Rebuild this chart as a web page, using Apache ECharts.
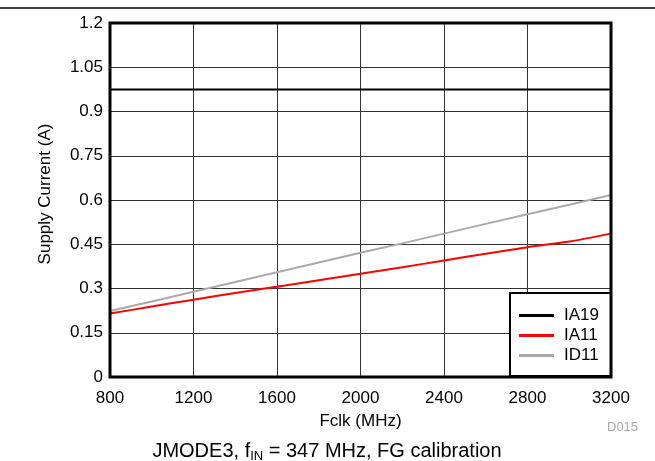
<!DOCTYPE html>
<html lang="en">
<head>
    <meta charset="UTF-8">
    <title>Supply Current vs Fclk</title>
    <script src="https://cdn.jsdelivr.net/npm/echarts@6.0.0/dist/echarts.min.js"></script>
    <style>
        html, body {
            margin: 0;
            padding: 0;
            background: #fff;
        }
        #chart {
            width: 655px;
            height: 461px;
        }
    </style>
</head>
<body>
    <div id="chart"></div>

    <script>
        // Fclk (MHz)
        const fclk = [800, 1000, 1200, 1400, 1600, 1800, 2000, 2200, 2400, 2600, 2800, 3000, 3200];

        // Supply current (A)
        const ia19 = [0.975, 0.975, 0.975, 0.975, 0.975, 0.975, 0.975, 0.975, 0.975, 0.975, 0.975, 0.975, 0.975];
        const ia11 = [0.215, 0.239, 0.262, 0.285, 0.306, 0.328, 0.350, 0.372, 0.395, 0.418, 0.440, 0.459, 0.486];
        const id11 = [0.224, 0.256, 0.289, 0.322, 0.355, 0.388, 0.421, 0.453, 0.486, 0.519, 0.552, 0.584, 0.617];

        const font = 'Liberation Sans, Arial, sans-serif';

        function pairs(vals) {
            return fclk.map((x, i) => [x, vals[i]]);
        }

        const chart = echarts.init(document.getElementById('chart'));

        chart.setOption({
            animation: false,
            textStyle: { fontFamily: font },
            title: {
                text: '{a|JMODE3, f}{s|IN}{a| = 347 MHz, FG calibration}',
                left: 322,
                textAlign: 'center',
                top: 435,
                textStyle: {
                    fontWeight: 'normal',
                    rich: {
                        a: { fontSize: 20, color: '#000', fontFamily: font, fontWeight: 'normal', lineHeight: 23 },
                        s: { fontSize: 13, color: '#000', fontFamily: font, fontWeight: 'normal', verticalAlign: 'bottom', padding: [10, 0, 0, 0] }
                    }
                }
            },
            grid: {
                left: 110,
                right: 44,
                top: 23,
                bottom: 84,
                show: true,
                borderColor: '#000',
                borderWidth: 3,
                z: 5
            },
            legend: {
                orient: 'vertical',
                left: 510,
                top: 293,
                padding: [14, 12, 12, 9],
                itemGap: 3,
                itemWidth: 35,
                itemHeight: 3,
                icon: 'rect',
                backgroundColor: '#fff',
                borderColor: '#000',
                borderWidth: 2,
                borderRadius: 0,
                textStyle: { fontSize: 17, color: '#000', fontFamily: font, padding: [0, 0, 0, 5] },
                data: ['IA19', 'IA11', 'ID11']
            },
            xAxis: {
                type: 'value',
                min: 800,
                max: 3200,
                interval: 400,
                name: 'Fclk (MHz)',
                nameLocation: 'middle',
                nameGap: 36,
                nameTextStyle: { fontSize: 17, color: '#000' },
                axisLine: { show: false },
                axisTick: { show: false },
                axisLabel: { fontSize: 17, color: '#000', margin: 13, formatter: v => String(v) },
                splitLine: { lineStyle: { color: '#333', width: 1 } }
            },
            yAxis: {
                type: 'value',
                min: 0,
                max: 1.2,
                interval: 0.15,
                name: 'Supply Current (A)',
                nameLocation: 'middle',
                nameGap: 56,
                nameTextStyle: { fontSize: 17, color: '#000', padding: [0, 0, 0, 12] },
                axisLine: { show: false },
                axisTick: { show: false },
                axisLabel: { fontSize: 17, color: '#000', margin: 7 },
                splitLine: { lineStyle: { color: '#333', width: 1 } }
            },
            graphic: [
                {
                    type: 'line',
                    shape: { x1: 0, y1: 8, x2: 655, y2: 8 },
                    style: { stroke: '#000', lineWidth: 1.5 }
                },
                {
                    type: 'text',
                    left: 607,
                    top: 421,
                    style: { text: 'D015', fontSize: 13, fill: '#aaa', fontFamily: font }
                }
            ],
            series: [
                {
                    name: 'IA19', type: 'line', data: pairs(ia19), showSymbol: false,
                    lineStyle: { color: '#000', width: 2 }, itemStyle: { color: '#000' }
                },
                {
                    name: 'IA11', type: 'line', data: pairs(ia11), showSymbol: false, smooth: 0.2,
                    lineStyle: { color: '#ff0000', width: 2 }, itemStyle: { color: '#ff0000' }
                },
                {
                    name: 'ID11', type: 'line', data: pairs(id11), showSymbol: false,
                    lineStyle: { color: '#aaaaaa', width: 2 }, itemStyle: { color: '#aaaaaa' }
                }
            ]
        });
    </script>
</body>
</html>
